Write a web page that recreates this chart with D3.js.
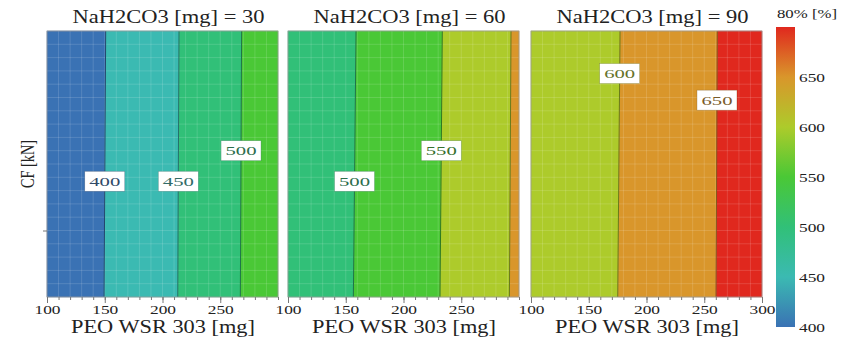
<!DOCTYPE html>
<html>
<head>
<meta charset="utf-8">
<script src="https://cdn.jsdelivr.net/npm/d3@7"></script>
<style>
  body { margin: 0; background: #fff; }
  text { font-family: "Liberation Serif", "Times New Roman", serif; }
</style>
</head>
<body>
<div id="chart"></div>
<script>
// NaH2CO3 amount for each panel
const nahco3 = [30, 60, 90];

// contour levels of 80% [%] and where each contour crosses the top / bottom of the panel (PEO WSR 303 [mg])
const levels30 = [400, 450, 500];
const xTop30 = [150.8, 214.3, 268.5];
const xBot30 = [149.4, 213.2, 267.4];

const levels60 = [500, 550, 600];
const xTop60 = [158.9, 233.6, 293.1];
const xBot60 = [156.6, 231.6, 291.7];

const levels90 = [600, 650];
const xTop90 = [177.1, 261.3];
const xBot90 = [175.1, 260.2];

// where the contour labels sit (CF [kN]), one per level
const labelCF30 = [18.7, 18.7, 21.0];
const labelCF60 = [18.7, 21.0, null];
const labelCF90 = [26.8, 24.8];

// colour scale of the colour bar
const scaleStops = [400, 450, 500, 550, 600, 650, 700];
const scaleColors = ['#3a72b4', '#3bbab2', '#31c078', '#4ac836', '#adcb2b', '#d9962b', '#e0281e'];
const barTicks = [400, 450, 500, 550, 600, 650];

const xTicksMajor = [100, 150, 200, 250, 300];

const panelData = [
  { n: nahco3[0], levels: levels30, top: xTop30, bot: xBot30, lab: labelCF30 },
  { n: nahco3[1], levels: levels60, top: xTop60, bot: xBot60, lab: labelCF60 },
  { n: nahco3[2], levels: levels90, top: xTop90, bot: xBot90, lab: labelCF90 }
];

const W = 850, H = 342;
const panelLeft = [47, 288, 531];
const panelW = 231;
const plotTop = 31, plotBottom = 297;
const FONT = '"Liberation Serif", "Times New Roman", serif';

const svg = d3.select('#chart').append('svg')
  .attr('width', W).attr('height', H);

const color = d3.scaleLinear().domain(scaleStops).range(scaleColors).clamp(true);
const labelColor = v => d3.interpolateRgb(color(v), '#2a2a2a')(0.55);
const y = d3.scaleLinear().domain([10, 30]).range([plotBottom, plotTop]);

// the source text is stretched wide, so fit each string to its measured width
function stretched(sel, len) {
  sel.attr('textLength', len).attr('lengthAdjust', 'spacingAndGlyphs');
}

panelData.forEach((p, i) => {
  const x = d3.scaleLinear().domain([100, 300]).range([panelLeft[i], panelLeft[i] + panelW]);
  const g = svg.append('g');

  // bands between successive contours
  const bounds = [{ t: 100, b: 100 }]
    .concat(p.levels.map((l, k) => ({ t: p.top[k], b: p.bot[k] })))
    .concat([{ t: 300, b: 300 }]);
  const bandUpper = p.levels.concat([p.levels[p.levels.length - 1] + 50]);
  for (let k = 0; k < bounds.length - 1; k++) {
    const a = bounds[k], b = bounds[k + 1];
    const pts = [[x(a.t), y(30)], [x(b.t), y(30)], [x(b.b), y(10)], [x(a.b), y(10)]];
    g.append('path')
      .attr('d', d3.line()(pts) + 'Z')
      .attr('fill', color(bandUpper[k]))
      .attr('stroke', color(bandUpper[k]))
      .attr('stroke-width', 0.5);
  }

  // faint grid
  const grid = g.append('g').attr('stroke', '#fff').attr('stroke-opacity', 0.14).attr('stroke-width', 1);
  d3.range(110, 300, 10).forEach(v => {
    grid.append('line').attr('x1', x(v)).attr('x2', x(v)).attr('y1', plotTop).attr('y2', plotBottom);
  });
  d3.range(11, 30, 1).forEach(v => {
    grid.append('line').attr('x1', x(100)).attr('x2', x(300)).attr('y1', y(v)).attr('y2', y(v));
  });

  // contour lines
  p.levels.forEach((l, k) => {
    g.append('line')
      .attr('x1', x(p.top[k])).attr('y1', y(30))
      .attr('x2', x(p.bot[k])).attr('y2', y(10))
      .attr('stroke', d3.color(color(l)).darker(1.4))
      .attr('stroke-width', 1);
  });

  // contour labels
  p.levels.forEach((l, k) => {
    const cf = p.lab[k];
    if (cf == null) return;
    const f = (cf - 10) / 20;
    const xv = p.bot[k] + (p.top[k] - p.bot[k]) * f;
    const cx = x(xv), cy = y(cf);
    g.append('rect')
      .attr('x', cx - 20).attr('y', cy - 10)
      .attr('width', 40).attr('height', 20)
      .attr('fill', '#fff').attr('stroke', labelColor(l)).attr('stroke-opacity', 0.5).attr('stroke-width', 0.6);
    g.append('text')
      .attr('x', cx).attr('y', cy + 4.5)
      .attr('text-anchor', 'middle')
      .attr('font-size', 13.5)
      .attr('fill', labelColor(l))
      .text(l)
      .call(stretched, 31);
  });

  // frame
  g.append('rect')
    .attr('x', x(100)).attr('y', plotTop)
    .attr('width', panelW).attr('height', plotBottom - plotTop)
    .attr('fill', 'none').attr('stroke', '#999').attr('stroke-width', 0.8);

  // x axis: minor ticks every 10, labelled major ticks every 50
  const ticks = i === 2 ? xTicksMajor : xTicksMajor.slice(0, 4);
  const ax = svg.append('g').attr('transform', `translate(0,${plotBottom})`);
  const minor = ax.append('g').call(d3.axisBottom(x).tickValues(d3.range(100, 301, 10)).tickSize(3));
  minor.selectAll('text').remove();
  const major = ax.append('g').call(d3.axisBottom(x).tickValues(ticks).tickSize(6).tickFormat(d3.format('d')));
  ax.selectAll('.domain').remove();
  ax.selectAll('line').attr('stroke', '#777');
  major.attr('font-family', FONT);
  major.selectAll('text')
    .attr('font-size', 12.5).attr('fill', '#222').attr('y', 17).attr('dy', null)
    .call(stretched, 26);

  svg.append('text')
    .attr('x', x(200) + 0.5).attr('y', 333)
    .attr('text-anchor', 'middle').attr('font-size', 18).attr('fill', '#222')
    .text('PEO WSR 303 [mg]')
    .call(stretched, 184);

  svg.append('text')
    .attr('x', x(200) + 6).attr('y', 23)
    .attr('text-anchor', 'middle').attr('font-size', 18).attr('fill', '#222')
    .text(`NaH2CO3 [mg] = ${p.n}`)
    .call(stretched, 192);

  if (i === 0) {
    const ay = svg.append('g').attr('transform', `translate(${x(100)},0)`);
    ay.call(d3.axisLeft(y).tickValues([15]).tickSize(4));
    ay.selectAll('text').remove();
    ay.selectAll('.domain').remove();
    ay.selectAll('line').attr('stroke', '#777');
    svg.append('text')
      .attr('transform', `translate(34,${(plotTop + plotBottom) / 2}) scale(1.25,1) rotate(-90)`)
      .attr('text-anchor', 'middle').attr('font-size', 15.5).attr('fill', '#222')
      .text('CF [kN]')
      .call(stretched, 48);
  }
});

// colour bar
const cb = d3.scaleLinear().domain([400, 700]).range([327, 27]);
const defs = svg.append('defs');
const grad = defs.append('linearGradient').attr('id', 'cbar')
  .attr('x1', 0).attr('x2', 0).attr('y1', 1).attr('y2', 0);
scaleStops.forEach(v => {
  grad.append('stop').attr('offset', (v - 400) / 300).attr('stop-color', color(v));
});
svg.append('rect')
  .attr('x', 776).attr('y', 27).attr('width', 19).attr('height', 300)
  .attr('fill', 'url(#cbar)');
const cax = svg.append('g').attr('transform', 'translate(795,0)');
cax.call(d3.axisRight(cb).tickValues(barTicks).tickSize(0).tickPadding(4));
cax.selectAll('.domain').remove();
cax.attr('font-family', FONT);
cax.selectAll('text').attr('font-size', 12.5).attr('fill', '#222').call(stretched, 26);
svg.append('text')
  .attr('x', 777).attr('y', 18)
  .attr('font-size', 13).attr('fill', '#222')
  .text('80% [%]')
  .call(stretched, 60);
</script>
</body>
</html>
